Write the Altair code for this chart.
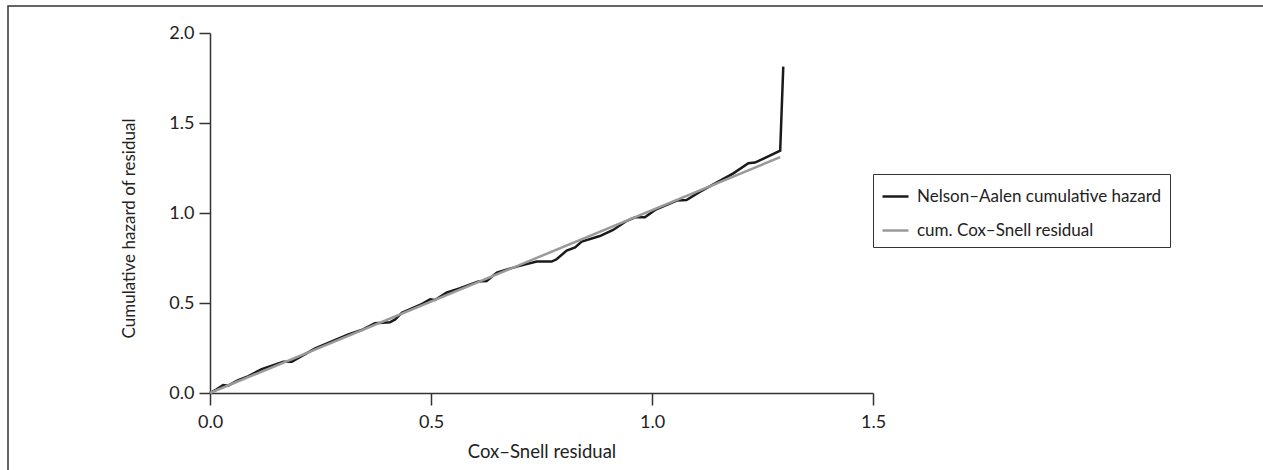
import altair as alt
import pandas as pd

FONT = "Lato"

# Nelson–Aalen cumulative hazard
na_x = [0.0, 0.015, 0.030, 0.041, 0.064, 0.087, 0.117, 0.166, 0.185, 0.238,
        0.313, 0.343, 0.373, 0.407, 0.419, 0.434, 0.480, 0.498, 0.509, 0.535,
        0.566, 0.607, 0.626, 0.649, 0.694, 0.739, 0.773, 0.784, 0.807, 0.826,
        0.841, 0.882, 0.912, 0.943, 0.962, 0.984, 1.007, 1.056, 1.078, 1.109,
        1.184, 1.218, 1.233, 1.290, 1.297]
na_y = [0.0, 0.020, 0.044, 0.041, 0.072, 0.094, 0.133, 0.174, 0.174, 0.248,
        0.326, 0.350, 0.387, 0.393, 0.409, 0.446, 0.495, 0.521, 0.517, 0.557,
        0.582, 0.619, 0.622, 0.669, 0.702, 0.730, 0.730, 0.743, 0.791, 0.809,
        0.841, 0.872, 0.906, 0.957, 0.976, 0.976, 1.017, 1.069, 1.072, 1.119,
        1.220, 1.276, 1.280, 1.346, 1.813]

# cumulative Cox–Snell residual reference line
cs_x = [0.0, 1.29]
cs_y = [0.0, 1.31]

series_names = ["Nelson\u2013Aalen cumulative hazard", "cum. Cox\u2013Snell residual"]
series_colors = ["#1a1a1a", "#9a9a9a"]

x_ticks = [0.0, 0.5, 1.0, 1.5]
y_ticks = [0.0, 0.5, 1.0, 1.5, 2.0]

rows = []
for i, (x, y) in enumerate(zip(na_x, na_y)):
    rows.append({"x": x, "y": y, "series": series_names[0], "order": i})
for i, (x, y) in enumerate(zip(cs_x, cs_y)):
    rows.append({"x": x, "y": y, "series": series_names[1], "order": i})
df = pd.DataFrame(rows)

color_scale = alt.Scale(domain=series_names, range=series_colors)

lines = alt.Chart(df).mark_line(strokeWidth=2.5, clip=False).encode(
    x=alt.X("x:Q",
            scale=alt.Scale(domain=[0, 1.5], nice=False, zero=False),
            axis=alt.Axis(values=x_ticks, format=".1f", title="Cox\u2013Snell residual",
                          grid=False, tickSize=12, labelPadding=8, labelFlush=False,
                          titleY=49, titleBaseline="top", titleFontSize=18.5)),
    y=alt.Y("y:Q",
            scale=alt.Scale(domain=[0, 2.0], nice=False, zero=False),
            axis=alt.Axis(values=y_ticks, format=".1f", title="Cumulative hazard of residual",
                          grid=False, tickSize=11, labelPadding=5, labelFlush=False,
                          titleX=-72, titleY=195, titleFontSize=17)),
    color=alt.Color("series:N", scale=color_scale, sort=series_names,
                    legend=alt.Legend(title=None, orient="none", legendX=663, legendY=141,
                                      symbolType="stroke", symbolSize=676,
                                      symbolStrokeWidth=2.5, labelFontSize=17,
                                      labelOffset=7, rowPadding=11, padding=8,
                                      labelLimit=500,
                                      strokeColor="#333333", fillColor="white",
                                      labelColor="#222222", labelFont=FONT)),
    order="order:Q",
)

border = alt.Chart(alt.Data(values=[{"b": 1}])).mark_rect(
    fill=None, stroke="#333333", strokeWidth=1.5, clip=False
).encode(
    x=alt.value(-202), x2=alt.value(1070),
    y=alt.value(-27), y2=alt.value(460),
)

chart = alt.layer(border, lines).properties(
    width=663, height=360,
    autosize=alt.AutoSizeParams(type="none"),
    padding={"left": 210, "top": 33, "right": 390, "bottom": 77},
).configure_view(stroke=None).configure_axis(
    domainColor="#333333", domainWidth=1.5, tickColor="#333333", tickWidth=1.5,
    labelFont=FONT, labelFontSize=18, labelColor="#222222",
    titleFont=FONT, titleFontWeight="normal", titleColor="#222222",
)

chart.save("out.html", embed_options={"renderer": "svg", "actions": False})
